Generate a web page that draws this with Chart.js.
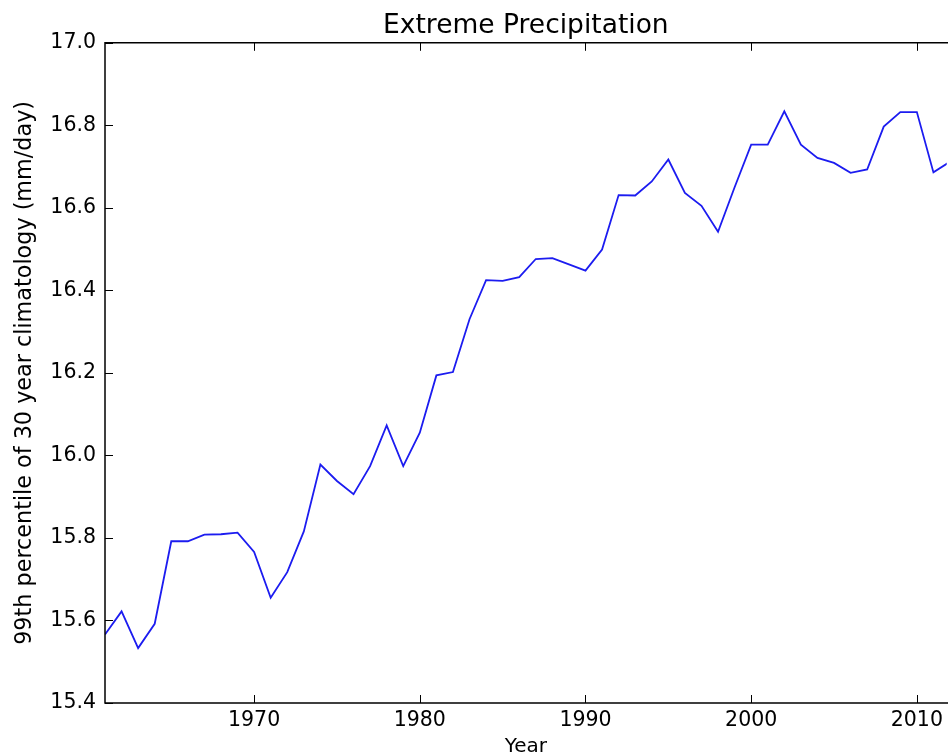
<!DOCTYPE html>
<html>
<head>
<meta charset="utf-8">
<title>Extreme Precipitation</title>
<script src="https://cdn.jsdelivr.net/npm/chart.js@4"></script>
<style>
	html, body { margin: 0; padding: 0; background: #fff; overflow: hidden; }
	#chart { display: block; }
</style>
</head>
<body>
<canvas id="chart" width="948" height="756"></canvas>
<script>
// Data
const years = [];
for (let y = 1961; y <= 2012; y++) years.push(y);
const precip99 = [
	15.566, 15.622, 15.533, 15.592, 15.792, 15.792, 15.808, 15.809, 15.813, 15.766,
	15.655, 15.717, 15.816, 15.978, 15.938, 15.906, 15.974, 16.073, 15.974, 16.055,
	16.194, 16.202, 16.330, 16.425, 16.423, 16.432, 16.476, 16.478, 16.463, 16.448,
	16.499, 16.631, 16.630, 16.664, 16.717, 16.636, 16.605, 16.542, 16.650, 16.753,
	16.753, 16.834, 16.753, 16.721, 16.709, 16.685, 16.693, 16.797, 16.832, 16.832,
	16.686, 16.712
];
const xTicks = [1970, 1980, 1990, 2000, 2010];
const yTicks = [15.4, 15.6, 15.8, 16.0, 16.2, 16.4, 16.6, 16.8, 17.0];

const fontFamily = '"DejaVu Sans", sans-serif';

// matplotlib-like frame with ticks pointing inward
const frameBox = {
	id: 'frameBox',
	afterDraw(chart) {
		const ctx = chart.ctx;
		const a = chart.chartArea;
		const xs = chart.scales.x, ys = chart.scales.y;
		const len = 8;
		ctx.save();
		ctx.strokeStyle = '#000';
		ctx.lineWidth = 1.5;
		ctx.beginPath();
		ctx.moveTo(a.right + 2, a.top);
		ctx.lineTo(a.left, a.top);
		ctx.lineTo(a.left, a.bottom);
		ctx.lineTo(a.right + 2, a.bottom);
		ctx.stroke();
		ctx.lineWidth = 1;
		ctx.beginPath();
		xTicks.forEach(v => {
			const px = Math.round(xs.getPixelForValue(v)) + 0.5;
			ctx.moveTo(px, a.bottom);
			ctx.lineTo(px, a.bottom - len);
			ctx.moveTo(px, a.top);
			ctx.lineTo(px, a.top + len);
		});
		yTicks.forEach(v => {
			const py = Math.round(ys.getPixelForValue(v)) + 0.5;
			ctx.moveTo(a.left, py);
			ctx.lineTo(a.left + len, py);
		});
		ctx.stroke();
		ctx.restore();
	}
};

const ctx = document.getElementById('chart');
new Chart(ctx, {
	type: 'line',
	data: {
		datasets: [{
			data: years.map((yr, i) => ({x: yr, y: precip99[i]})),
			borderColor: '#1c1cf0',
			borderWidth: 1.8,
			pointRadius: 0,
			tension: 0,
			fill: false
		}]
	},
	options: {
		responsive: false,
		animation: false,
		devicePixelRatio: 1,
		layout: {
			padding: {left: 0, right: 0, top: 0, bottom: 0}
		},
		plugins: {
			legend: {display: false},
			tooltip: {enabled: false},
			title: {
				display: true,
				text: 'Extreme Precipitation',
				fullSize: false,
				color: '#000',
				font: {family: fontFamily, size: 26.5, weight: 'normal'},
				padding: {top: 10, bottom: 1}
			}
		},
		scales: {
			x: {
				type: 'linear',
				min: 1961,
				max: 2011.8,
				afterBuildTicks: scale => {
					scale.ticks = xTicks.map(v => ({value: v}));
				},
				afterFit: scale => { scale.height = 53; },
				grid: {display: false, drawTicks: false},
				border: {display: false},
				ticks: {
					color: '#000',
					padding: 5,
					maxRotation: 0,
					font: {family: fontFamily, size: 20.5},
					callback: v => String(v)
				},
				title: {
					display: true,
					text: 'Year',
					color: '#000',
					font: {family: fontFamily, size: 20},
					padding: {top: 0, bottom: -3}
				}
			},
			y: {
				min: 15.4,
				max: 17.0,
				afterBuildTicks: scale => {
					scale.ticks = yTicks.map(v => ({value: v}));
				},
				afterFit: scale => { scale.width = 105; },
				grid: {display: false, drawTicks: false},
				border: {display: false},
				ticks: {
					color: '#000',
					padding: 9,
					font: {family: fontFamily, size: 20.5},
					callback: v => v.toFixed(1)
				},
				title: {
					display: true,
					text: '99th percentile of 30 year climatology (mm/day)',
					color: '#000',
					font: {family: fontFamily, size: 22.3},
					padding: {top: 12, bottom: 0}
				}
			}
		}
	},
	plugins: [frameBox]
});
</script>
</body>
</html>
